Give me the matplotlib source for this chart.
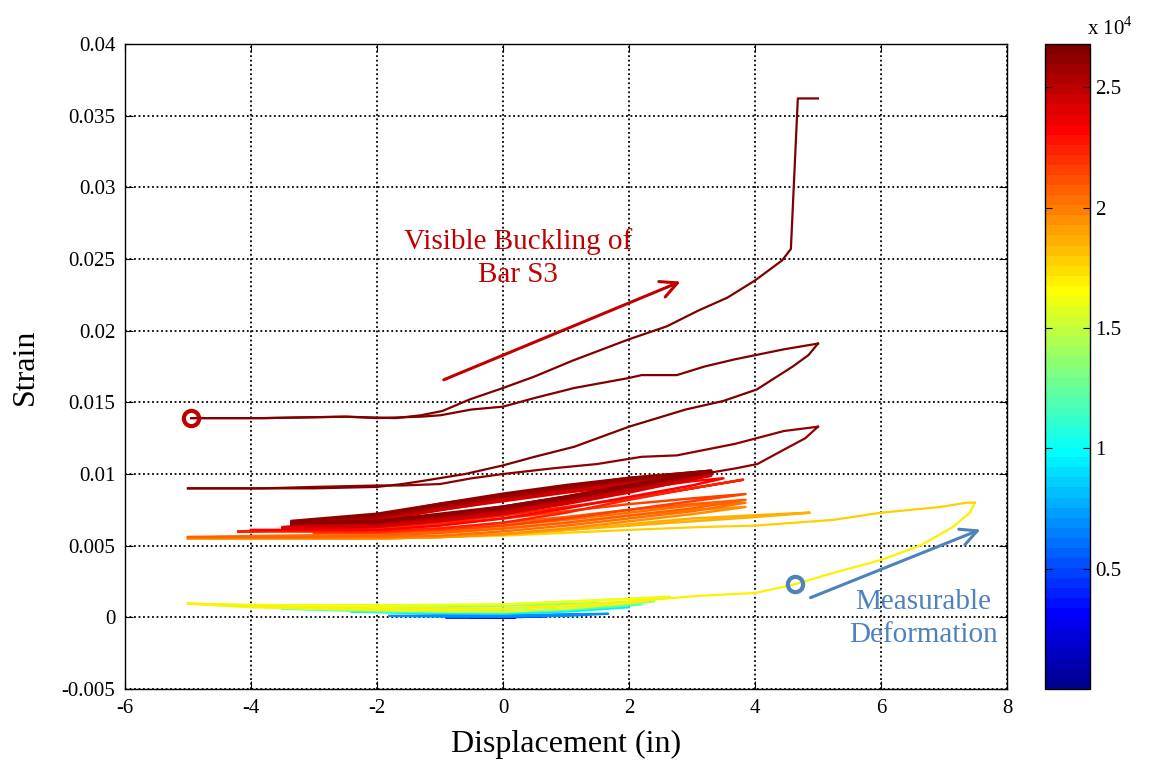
import numpy as np
import matplotlib
matplotlib.use('Agg')
import matplotlib.pyplot as plt
from matplotlib import colors, cm

plt.rcParams['font.family'] = ['Liberation Serif', 'DejaVu Serif']
plt.rcParams['mathtext.fontset'] = 'custom'
plt.rcParams['mathtext.rm'] = 'Liberation Serif'

# time step (colour) of each path, then its displacement / strain points
# early small cycles near zero strain
early_t = [1500, 4000, 7000, 9500, 12000, 14000, 15500, 16300]
early_x = [
    [-0.5, -0.2, 0.2, -0.1, -0.5],
    [-0.9, -0.4, 0.3, 0.7, 0.2, -0.4, -0.9],
    [-1.8, -1.0, 0.0, 1.0, 1.67, 1.0, 0.0, -1.0, -1.8],
    [-2.4, -1.5, 0.0, 1.0, 2.0, 1.0, 0.0, -1.5, -2.4],
    [-3.5, -2.0, 0.0, 1.0, 2.2, 1.0, 0.0, -2.0, -3.5],
    [-4.2, -3.0, -1.0, 0.0, 1.0, 2.4, 1.5, 0.0, -1.0, -3.0, -4.2],
    [-5.0, -4.0, -2.0, 0.0, 1.0, 2.0, 2.65, 2.0, 0.0, -2.0, -4.0, -5.0],
    [-4.6, -3.0, -1.0, 0.0, 1.0, 2.0, 2.6, 1.5, 0.0, -2.0, -4.6],
]
early_y = [
    [-0.00003, -0.00002, 0.0, 0.0, -0.00002],
    [0.0, -0.00002, 0.00002, 0.00008, 0.00005, 0.00002, 0.0],
    [0.0001, 0.00005, 0.00004, 0.0001, 0.00025, 0.00022, 0.00015, 0.00015, 0.0001],
    [0.0004, 0.0003, 0.00025, 0.0004, 0.0007, 0.0006, 0.0004, 0.0004, 0.0004],
    [0.0006, 0.0004, 0.00035, 0.0005, 0.0009, 0.0008, 0.0006, 0.0006, 0.0006],
    [0.0008, 0.0006, 0.0004, 0.0004, 0.0006, 0.0011, 0.0010, 0.0008, 0.0007, 0.0007, 0.0008],
    [0.00095, 0.0007, 0.0005, 0.0004, 0.0006, 0.0010, 0.00145, 0.0013, 0.0009, 0.00085, 0.00085, 0.00095],
    [0.0009, 0.0007, 0.0006, 0.0006, 0.0008, 0.0011, 0.0014, 0.0012, 0.0009, 0.0008, 0.0009],
]

# big excursion to +7.5 in
big_t = [16900, 18000]
big_x = [
    [-5.0, -4.2, -2.0, 0.0, 1.0, 2.0, 3.1, 4.0, 4.63, 5.24, 6.0, 6.62, 7.14, 7.41, 7.49],
    [7.49, 7.36, 6.94, 6.0, 5.24, 4.0, 3.13, 2.0, 1.0, 0.0, -1.0, -2.0, -3.0],
]
big_y = [
    [0.001, 0.0008, 0.0006, 0.0006, 0.0008, 0.0011, 0.0015, 0.0017, 0.0023, 0.0031, 0.0040, 0.0050, 0.0063, 0.0073, 0.0080],
    [0.0080, 0.0080, 0.0077, 0.0073, 0.0068, 0.0064, 0.0063, 0.0061, 0.0059, 0.0057, 0.0056, 0.0055, 0.0055],
]

# orange / red cycles
mid_t = [18600, 19400, 20200, 20900, 21600, 22400, 23200, 23900]
mid_x = [
    [-3.0, -2.0, -1.0, 0.0, 1.0, 2.0, 3.0, 3.9, 4.87, 4.0, 3.0, 2.0, 1.0, 0.0, -1.0, -2.0, -3.0, -4.0, -5.0],
    [-5.0, -4.0, -2.0, -1.0, 0.0, 1.0, 2.0, 3.0, 3.85, 3.0, 2.0, 1.0, 0.0, -1.0, -2.0, -3.0, -4.0],
    [-4.0, -2.0, -1.0, 0.0, 1.0, 2.0, 3.0, 3.85, 3.0, 2.0, 1.0, 0.0, -1.0, -2.0, -3.5, -5.0],
    [-5.0, -3.0, -2.0, -1.0, 0.0, 1.0, 2.0, 3.0, 3.85, 3.0, 2.0, 1.0, 0.0, -1.0, -2.0, -3.0],
    [-3.0, -2.0, -1.0, 0.0, 1.0, 2.0, 3.0, 3.85, 3.0, 2.0, 1.0, 0.0, -1.0, -2.0, -3.0, -4.2],
    [-4.2, -3.0, -2.0, -1.0, 0.0, 1.0, 2.0, 3.0, 3.81, 3.0, 2.0, 1.0, 0.0, -1.0, -2.0, -3.0, -4.2],
    [-4.0, -2.0, -1.0, 0.0, 1.0, 2.0, 3.0, 3.5, 3.0, 2.0, 1.0, 0.0, -1.0, -2.0, -3.5],
    [-3.5, -2.0, -1.0, 0.0, 1.0, 2.0, 3.3, 2.0, 1.0, 0.0, -1.0, -2.0, -3.5],
]
mid_y = [
    [0.0055, 0.0055, 0.0056, 0.0058, 0.0061, 0.0065, 0.0069, 0.0071, 0.0073, 0.0070, 0.0067, 0.0064, 0.0061, 0.0058, 0.0056, 0.0055, 0.0055, 0.0055, 0.0055],
    [0.0055, 0.0055, 0.0055, 0.0056, 0.0058, 0.0062, 0.0067, 0.0072, 0.0077, 0.0075, 0.0071, 0.0066, 0.0062, 0.0059, 0.0057, 0.0056, 0.0056],
    [0.0056, 0.0056, 0.0057, 0.0060, 0.0064, 0.0069, 0.0074, 0.0080, 0.0078, 0.0073, 0.0068, 0.0064, 0.0060, 0.0058, 0.0057, 0.0056],
    [0.0056, 0.0056, 0.0057, 0.0059, 0.0062, 0.0066, 0.0071, 0.0076, 0.0082, 0.0079, 0.0075, 0.0070, 0.0066, 0.0062, 0.0060, 0.0059],
    [0.0059, 0.0059, 0.0061, 0.0064, 0.0069, 0.0075, 0.0081, 0.0086, 0.0083, 0.0079, 0.0074, 0.0069, 0.0065, 0.0062, 0.0060, 0.0060],
    [0.0060, 0.0060, 0.0060, 0.0062, 0.0066, 0.0073, 0.0082, 0.0090, 0.0096, 0.0090, 0.0083, 0.0077, 0.0071, 0.0066, 0.0063, 0.0061, 0.0060],
    [0.0061, 0.0061, 0.0064, 0.0069, 0.0076, 0.0084, 0.0092, 0.0097, 0.0095, 0.0089, 0.0083, 0.0077, 0.0071, 0.0066, 0.0062],
    [0.0062, 0.0063, 0.0067, 0.0072, 0.0079, 0.0087, 0.0099, 0.0092, 0.0087, 0.0081, 0.0075, 0.0068, 0.0063],
]

# dense dark-red cycles between -3.35 and 3.3 in
dark_t = [24300, 24700, 25000, 25300, 25600, 25800, 26000]
dark_x = [-3.35, -2.0, -1.0, 0.0, 1.0, 2.0, 3.3, 2.0, 1.0, 0.0, -1.0, -2.0, -3.35]
dark_y = [
    [0.0064, 0.0064, 0.0068, 0.0073, 0.0080, 0.0088, 0.0099, 0.0093, 0.0088, 0.0082, 0.0076, 0.0069, 0.0065],
    [0.0065, 0.0065, 0.0069, 0.0074, 0.0081, 0.0089, 0.0100, 0.0094, 0.0088, 0.0082, 0.0075, 0.0068, 0.0065],
    [0.0065, 0.0066, 0.0070, 0.0075, 0.0082, 0.0090, 0.0101, 0.0095, 0.0090, 0.0084, 0.0078, 0.0070, 0.0066],
    [0.0066, 0.0066, 0.0070, 0.0076, 0.0083, 0.0091, 0.0101, 0.0096, 0.0090, 0.0084, 0.0077, 0.0070, 0.0066],
    [0.0066, 0.0067, 0.0071, 0.0076, 0.0083, 0.0091, 0.0102, 0.0096, 0.0091, 0.0085, 0.0079, 0.0071, 0.0066],
    [0.0066, 0.0067, 0.0071, 0.0077, 0.0084, 0.0092, 0.0102, 0.0097, 0.0091, 0.0085, 0.0078, 0.0071, 0.0066],
    [0.0066, 0.0067, 0.0072, 0.0077, 0.0084, 0.0092, 0.0102, 0.0097, 0.0092, 0.0086, 0.0079, 0.0072, 0.0067],
]

# final large cycles up to buckling
final_t = [26200, 26350, 26500, 26650, 26800]
final_x = [
    [3.3, 3.7, 4.04, 4.46, 4.8, 5.0],
    [5.0, 4.46, 3.68, 2.76, 2.2, 1.5, 0.8, 0.0, -0.5, -1.0, -1.6, -2.0, -3.0, -3.8, -5.0],
    [-5.0, -4.0, -3.0, -2.0, -1.6, -1.3, -0.6, 0.0, 0.5, 1.13, 2.0, 2.9, 3.5, 4.03, 4.6, 4.85, 5.0],
    [5.0, 4.46, 3.68, 3.2, 2.76, 2.2, 2.0, 1.13, 0.5, 0.0, -0.5, -0.99, -1.3, -2.0, -2.5, -3.8, -4.95],
    [-4.95, -3.8, -2.5, -1.7, -1.3, -0.96, -0.53, 0.0, 0.5, 1.1, 2.0, 2.6, 3.1, 3.56, 4.0, 4.43, 4.57, 4.68, 5.0],
]
final_y = [
    [0.0101, 0.0104, 0.0107, 0.0117, 0.0125, 0.0133],
    [0.0133, 0.0130, 0.0121, 0.0113, 0.0112, 0.0107, 0.0104, 0.0100, 0.0097, 0.0093, 0.0092, 0.0092, 0.0091, 0.0090, 0.0090],
    [0.0090, 0.0090, 0.0090, 0.0091, 0.0093, 0.0095, 0.0100, 0.0106, 0.0112, 0.0119, 0.0133, 0.0145, 0.0151, 0.0159, 0.0175, 0.0183, 0.0191],
    [0.0191, 0.0187, 0.0180, 0.0175, 0.0169, 0.0169, 0.0167, 0.0160, 0.0153, 0.0147, 0.0145, 0.0141, 0.0140, 0.0139, 0.0140, 0.0139, 0.0139],
    [0.0139, 0.0139, 0.0140, 0.0139, 0.0141, 0.0144, 0.0152, 0.0160, 0.0168, 0.0179, 0.0194, 0.0203, 0.0214, 0.0223, 0.0235, 0.0249, 0.0257, 0.0362, 0.0362],
]

buckle_pt = (-4.95, 0.0139)
measure_pt = (4.63, 0.0023)

xticks = [-6, -4, -2, 0, 2, 4, 6, 8]
yticks = [-0.005, 0, 0.005, 0.01, 0.015, 0.02, 0.025, 0.03, 0.035, 0.04]
ytick_labels = ['-0.005', '0', '0.005', '0.01', '0.015', '0.02', '0.025', '0.03', '0.035', '0.04']
cb_ticks = [5000, 10000, 15000, 20000, 25000]
cb_labels = ['0.5', '1', '1.5', '2', '2.5']
t_max = 26800

# MATLAB style jet(64)
k = np.arange(1, 65) / 64.0
jet_r = np.clip(np.minimum(4 * k - 1.5, -4 * k + 4.5), 0, 1)
jet_g = np.clip(np.minimum(4 * k - 0.5, -4 * k + 3.5), 0, 1)
jet_b = np.clip(np.minimum(4 * k + 0.5, -4 * k + 2.5), 0, 1)
cmap = colors.ListedColormap(np.column_stack([jet_r, jet_g, jet_b]))
norm = colors.Normalize(0, t_max)

fig = plt.figure(figsize=(11.54, 7.69), dpi=100)
ax = fig.add_axes([0.1083, 0.104, 0.7643, 0.8388])
cax = fig.add_axes([0.9055, 0.104, 0.039, 0.8388])

paths = []
paths += [(t, x, y, 1.6) for t, x, y in zip(early_t, early_x, early_y)]
paths += [(t, x, y, 1.6) for t, x, y in zip(big_t, big_x, big_y)]
paths += [(t, x, y, 1.8) for t, x, y in zip(mid_t, mid_x, mid_y)]
paths += [(t, dark_x, y, 2.4) for t, y in zip(dark_t, dark_y)]
paths += [(t, x, y, 1.6) for t, x, y in zip(final_t, final_x, final_y)]

for t, xs, ys, lw in paths:
    ax.plot(xs, ys, color=cmap(norm(t)), lw=lw, solid_joinstyle='round')

# circle markers
ax.plot(*buckle_pt, 'o', ms=11, mfc='none', mec='#c00000', mew=3)
ax.plot(*measure_pt, 'o', ms=11, mfc='none', mec='#4f81bd', mew=3)

# annotations
ax.annotate('', xy=(2.86, 0.0235), xytext=(-0.98, 0.0165),
            arrowprops=dict(arrowstyle='->', color='#c00000', lw=2.2, mutation_scale=30))
ax.text(0.24, 0.0251, 'Visible Buckling of\nBar S3', color='#c00000', fontsize=21,
        ha='center', va='center', linespacing=1.35)
ax.annotate('', xy=(7.62, 0.0062), xytext=(4.84, 0.0013),
            arrowprops=dict(arrowstyle='->', color='#4f81bd', lw=2.2, mutation_scale=30))
ax.text(6.67, -0.0001, 'Measurable\nDeformation', color='#4f81bd', fontsize=21,
        ha='center', va='center', linespacing=1.35)

ax.set_xlim(-6, 8)
ax.set_ylim(-0.005, 0.04)
ax.set_xticks(xticks)
ax.set_xticklabels([str(v) for v in xticks])
ax.set_yticks(yticks)
ax.set_yticklabels(ytick_labels)
ax.tick_params(direction='in', top=True, right=True, length=6, labelsize=15, pad=7)
ax.grid(True, color='k', ls=(0, (1, 1.5)), lw=1.3)
ax.set_axisbelow(True)
for s in ax.spines.values():
    s.set_linewidth(1)

ax.set_xlabel('Displacement (in)', fontsize=23)
ax.set_ylabel('Strain', fontsize=23)
ax.xaxis.set_label_coords(0.5, -0.063)
ax.yaxis.set_label_coords(-0.096, 0.5)

sm = cm.ScalarMappable(norm=norm, cmap=cmap)
cb = fig.colorbar(sm, cax=cax)
cb.set_ticks(cb_ticks)
cb.set_ticklabels(cb_labels)
cb.outline.set_linewidth(1)
cax.tick_params(direction='in', left=True, right=True, length=5, labelsize=15, pad=4)
fig.text(0.962, 0.963, r'x 10$^{4}$', fontsize=15, ha='center', va='center')

fig.savefig('out.png', dpi=100)
